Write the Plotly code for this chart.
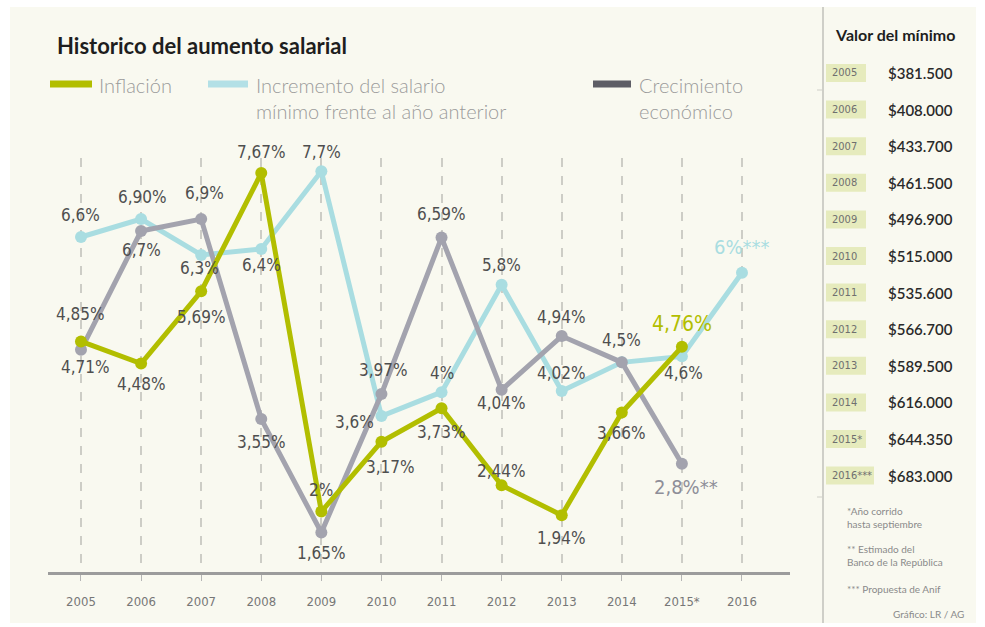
import plotly.graph_objects as go

# ---------------- data ----------------
years = [2005, 2006, 2007, 2008, 2009, 2010, 2011, 2012, 2013, 2014, 2015, 2016]
tick_labels = ["2005", "2006", "2007", "2008", "2009", "2010", "2011", "2012",
               "2013", "2014", "2015*", "2016"]

inflation = [4.85, 4.48, 5.69, 7.67, 2.00, 3.17, 3.73, 2.44, 1.94, 3.66, 4.76, None]
salary = [6.6, 6.9, 6.3, 6.4, 7.7, 3.6, 4.0, 5.8, 4.02, 4.5, 4.6, 6.0]
growth = [4.71, 6.7, 6.9, 3.55, 1.65, 3.97, 6.59, 4.04, 4.94, 4.5, 2.8, None]

inflation_text = ["4,85%", "4,48%", "5,69%", "7,67%", "2%", "3,17%", "3,73%",
                  "2,44%", "1,94%", "3,66%", "4,76%", None]
salary_text = ["6,6%", "6,90%", "6,3%", "6,4%", "7,7%", "3,6%", "4%", "5,8%",
               "4,02%", "4,5%", "4,6%", "6%***"]
growth_text = ["4,71%", "6,7%", "6,9%", "3,55%", "1,65%", "3,97%", "6,59%",
               "4,04%", "4,94%", None, "2,8%**", None]

table_years = ["2005", "2006", "2007", "2008", "2009", "2010", "2011", "2012",
               "2013", "2014", "2015*", "2016***"]
table_values = ["$381.500", "$408.000", "$433.700", "$461.500", "$496.900",
                "$515.000", "$535.600", "$566.700", "$589.500", "$616.000",
                "$644.350", "$683.000"]

# ---------------- styles ----------------
C_INF = "#b2be00"
C_SAL = "#a9dde1"
C_GRO = "#a3a3ae"
C_BG = "#f9f9f0"
LABEL_FONT = "DejaVu Sans Condensed, sans-serif"
TEXT_FONT = "Lato, Open Sans, sans-serif"

# label offsets (dx, dy in px; dy positive = downwards)
inf_off = [(0, -27), (0, 20), (0, 26), (0, -21), (0, -22), (9, 25), (0, 24),
           (0, -14), (0, 23), (0, 21), (0, -23), None]
sal_off = [(0, -22), (1, -22), (-2, 13), (0, 16), (0, -19), (-27, 6), (0, -19),
           (0, -20), (0, -18), (0, -22), (2, 17), (0, -26)]
gro_off = [(5, 17), (0, 19), (3, -26), (0, 23), (0, 21), (2, -24), (0, -24),
           (0, 13), (0, -19), None, (4, 23), None]

L, R, T, B = 48, 195, 158, 55
W, H = 985, 627
PW, PH = W - L - R, H - T - B


def PX(x):
    return (x - L) / PW


def PY(y):
    return (H - B - y) / PH


fig = go.Figure()

for vals, col in [(salary, C_SAL), (growth, C_GRO), (inflation, C_INF)]:
    fig.add_trace(go.Scatter(
        x=years, y=vals, mode="lines+markers",
        line=dict(color=col, width=5),
        marker=dict(color=col, size=12),
        cliponaxis=False, showlegend=False, hoverinfo="skip",
    ))

annotations = []


def add_labels(vals, texts, offs, special=None):
    for i, (v, t, o) in enumerate(zip(vals, texts, offs)):
        if v is None or t is None or o is None:
            continue
        font = dict(family=LABEL_FONT, size=17, color="#4f4f4f")
        if special and i in special:
            font = special[i]
        annotations.append(dict(
            x=years[i], y=v, xref="x", yref="y", text=t, showarrow=False,
            xshift=o[0], yshift=-o[1], xanchor="center", yanchor="middle",
            font=font))


add_labels(inflation, inflation_text, inf_off,
           {10: dict(family=LABEL_FONT, size=21, color=C_INF)})
add_labels(salary, salary_text, sal_off,
           {11: dict(family=LABEL_FONT, size=20, color=C_SAL)})
add_labels(growth, growth_text, gro_off,
           {10: dict(family=LABEL_FONT, size=20, color="#8e8e98")})

shapes = []
# background panel with white border
shapes.append(dict(type="rect", xref="paper", yref="paper", layer="below",
                   x0=PX(10), x1=PX(976), y0=PY(623), y1=PY(7),
                   fillcolor=C_BG, line=dict(width=0)))
# right panel separator
shapes.append(dict(type="line", xref="paper", yref="paper",
                   x0=PX(823), x1=PX(823), y0=PY(623), y1=PY(7),
                   line=dict(color="#cfcfc8", width=2)))
for yy in (90, 497):
    shapes.append(dict(type="line", xref="paper", yref="paper",
                       x0=PX(817), x1=PX(823), y0=PY(yy), y1=PY(yy),
                       line=dict(color="#cfcfc8", width=1)))

# title
annotations.append(dict(x=PX(55), y=PY(46), xref="paper", yref="paper",
                        text="<b>Historico del aumento salarial</b>", showarrow=False,
                        xanchor="left", yanchor="middle",
                        font=dict(family=TEXT_FONT, size=22, color="#1e1e1e")))

# legend
legend_items = [
    (50, 92, C_INF, 97, "Inflación"),
    (208, 248, "#b3e0e6", 254, "Incremento del salario<br>mínimo frente al año anterior"),
    (593, 631, "#5e5e66", 637, "Crecimiento<br>económico"),
]
for x0, x1, col, tx, txt in legend_items:
    shapes.append(dict(type="line", xref="paper", yref="paper",
                       x0=PX(x0), x1=PX(x1), y0=PY(84), y1=PY(84),
                       line=dict(color=col, width=7)))
    annotations.append(dict(x=PX(tx), y=PY(71), xref="paper", yref="paper",
                            text=txt, showarrow=False, xanchor="left", yanchor="top",
                            align="left",
                            font=dict(family=TEXT_FONT, size=20, color="#9b9b9b",
                                      weight=300)))

# right table
annotations.append(dict(x=PX(833), y=PY(34), xref="paper", yref="paper",
                        text="<b>Valor del mínimo</b>", showarrow=False,
                        xanchor="left", yanchor="middle",
                        font=dict(family=TEXT_FONT, size=16, color="#1e1e1e")))
row_y0, row_dy = 73, 36.6
for i, (yr, val) in enumerate(zip(table_years, table_values)):
    yy = row_y0 + i * row_dy
    shapes.append(dict(type="rect", xref="paper", yref="paper",
                       x0=PX(826), x1=PX(866 if len(yr) <= 5 else 874),
                       y0=PY(yy + 9), y1=PY(yy - 9),
                       fillcolor="#e6ebbd", line=dict(width=0), layer="below"))
    annotations.append(dict(x=PX(830), y=PY(yy), xref="paper", yref="paper",
                            text=yr, showarrow=False, xanchor="left", yanchor="middle",
                            font=dict(family=LABEL_FONT, size=11, color="#6f6f6f")))
    annotations.append(dict(x=PX(886), y=PY(yy), xref="paper", yref="paper",
                            text=val, showarrow=False, xanchor="left", yanchor="middle",
                            font=dict(family=TEXT_FONT, size=15, color="#2a2a2a",
                                      weight=600)))

notes = [
    (845, 517, "*Año corrido<br>hasta septiembre"),
    (845, 555, "** Estimado del<br>Banco de la República"),
    (845, 589, "*** Propuesta de Anif"),
]
for x, y, t in notes:
    annotations.append(dict(x=PX(x), y=PY(y), xref="paper", yref="paper",
                            text=t, showarrow=False, xanchor="left", yanchor="middle",
                            align="left",
                            font=dict(family=TEXT_FONT, size=10, color="#8a8a8a")))
annotations.append(dict(x=PX(966), y=PY(614), xref="paper", yref="paper",
                        text="Gráfico: LR / AG", showarrow=False, xanchor="right",
                        yanchor="middle",
                        font=dict(family=TEXT_FONT, size=10, color="#8a8a8a")))

fig.update_layout(
    width=W, height=H,
    margin=dict(l=L, r=R, t=T, b=B),
    paper_bgcolor="white",
    plot_bgcolor="rgba(0,0,0,0)",
    showlegend=False,
    shapes=shapes,
    annotations=annotations,
    xaxis=dict(
        range=[2004.451, 2016.799], tickvals=years, ticktext=tick_labels,
        showgrid=True, gridcolor="#cdcdc6", gridwidth=1.5, griddash="dash",
        showline=True, linecolor="#9c9c9c", linewidth=2.5,
        ticks="outside", ticklen=6, tickcolor="#b5b5b5", tickwidth=1,
        ticklabelstandoff=10,
        tickfont=dict(family=LABEL_FONT, size=13, color="#777777"),
        zeroline=False, fixedrange=True,
    ),
    yaxis=dict(
        range=[0.988, 7.923], showgrid=False, showline=False, zeroline=False,
        showticklabels=False, ticks="", fixedrange=True,
    ),
)

fig.write_html("out.html")
